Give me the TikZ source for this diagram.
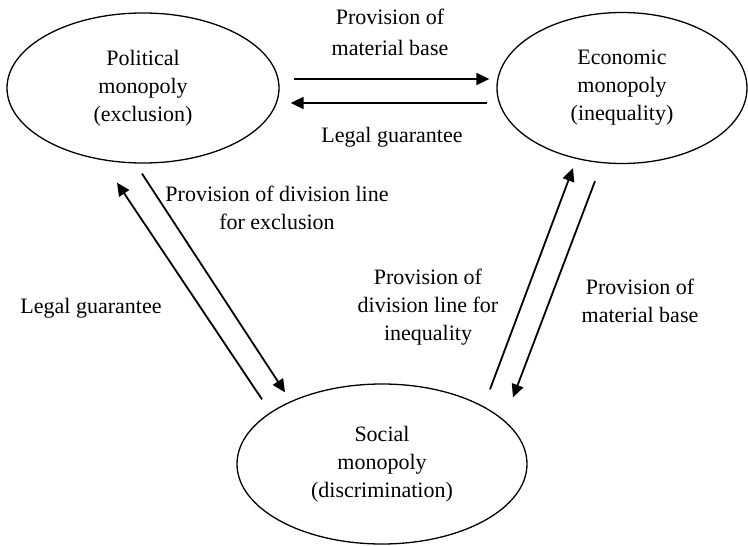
\documentclass[tikz,border=0pt]{standalone}
\usepackage{fontspec}
\setmainfont{Liberation Serif}
\usetikzlibrary{arrows.meta,shapes.geometric}

\begin{document}
\begin{tikzpicture}[x=1pt, y=-1pt,
font=\fontsize{22}{28}\selectfont,
mono/.style={draw, ellipse, line width=1.3pt, inner sep=0pt, align=center},
lbl/.style={align=center, inner sep=0pt},
arr/.style={-{Triangle[length=13pt,width=12pt]}, line width=1.8pt}
]
\useasboundingbox (0,0) rectangle (748,546);

% the three monopolies
\node[mono, minimum width=272pt, minimum height=150pt] (pol) at (143,88) {Political\\monopoly\\(exclusion)};
\node[mono, minimum width=250pt, minimum height=151pt] (eco) at (622,88) {Economic\\monopoly\\(inequality)};
\node[mono, minimum width=290pt, minimum height=160pt] (soc) at (382,464) {Social\\monopoly\\(discrimination)};

% political <-> economic
\draw[arr] ([xshift=14pt,yshift=9pt]pol.east) -- ([xshift=-7pt,yshift=9pt]eco.west);
\draw[arr] ([xshift=-9pt,yshift=-15pt]eco.west) -- ([xshift=11pt,yshift=-15pt]pol.east);
% social <-> political
\draw[arr] ([xshift=-120pt,yshift=-16pt]soc.north) -- ([xshift=-26pt,yshift=-19pt]pol.south);
\draw[arr] ([xshift=-1pt,yshift=-10pt]pol.south) -- ([xshift=-97pt,yshift=-9pt]soc.north);
% social <-> economic
\draw[arr] ([xshift=108pt,yshift=-6pt]soc.north) -- ([xshift=-49pt,yshift=-4pt]eco.south);
\draw[arr] ([xshift=-27pt,yshift=-17pt]eco.south) -- ([xshift=131pt,yshift=-14pt]soc.north);

% labels
\node[lbl] (pmb1) at (390,32) {Provision of\\[3pt]material base};
\node[lbl] (lg1) at (392,137) {Legal guarantee};
\node[lbl] (pdx) at (277,208) {Provision of division line\\for exclusion};
\node[lbl] (lg2) at (91,308) {Legal guarantee};
\node[lbl] (pdi) at (428,307) {Provision of\\division line for\\inequality};
\node[lbl] (pmb2) at (640,301) {Provision of\\material base};
\end{tikzpicture}
\end{document}
